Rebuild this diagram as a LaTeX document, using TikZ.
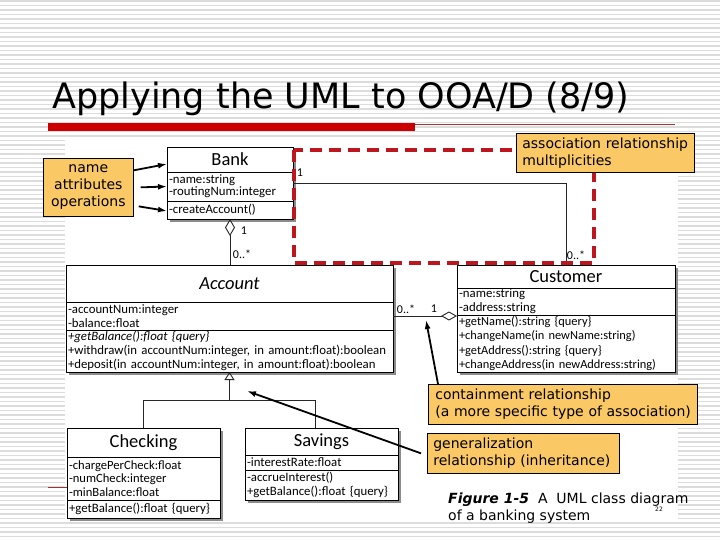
\documentclass[tikz,border=0pt]{standalone}
\usepackage{fontspec}
\setmainfont{DejaVu Sans}
\newfontfamily\umlfont{Carlito}
\usetikzlibrary{arrows.meta}
\definecolor{callfill}{RGB}{251,200,102}
\definecolor{dashred}{RGB}{190,22,30}
\definecolor{titlered}{RGB}{204,0,0}
\definecolor{thinred}{RGB}{160,50,50}
\definecolor{stripe}{RGB}{220,220,220}
\definecolor{shade}{RGB}{140,140,140}
\begin{document}
\begin{tikzpicture}[x=1pt,y=-1pt,
  sect/.style={draw=black, line width=0.8pt, fill=white, anchor=north west,
    inner ysep=0pt, inner xsep=2pt, outer sep=0pt, align=left,
    font=\umlfont\fontsize{12.8}{14}\selectfont},
  namesect/.style={sect, align=center, font=\umlfont\fontsize{18.5}{19}\selectfont},
  assoc/.style={draw=black!85, line width=0.9pt},
  mult/.style={font=\umlfont\fontsize{12}{12}\selectfont, inner sep=0pt},
  callout/.style={draw=black, line width=0.7pt, fill=callfill, anchor=north west,
    inner ysep=0pt, align=left, font=\fontsize{14}{17}\selectfont},
  callarrow/.style={draw=black, line width=1.8pt, -{Latex[length=9pt,width=6pt]}},
  shadowbox/.style={fill=shade},
]
\useasboundingbox (0,0) rectangle (720,540);
% background
\fill[white] (0,0) rectangle (720,540);
\foreach \k in {0,...,120} \draw[stripe, line width=1.2pt] (0,\k*4.5+1) -- (720,\k*4.5+1);
\fill[white] (65,139) rectangle (678,522);

% title
\node[anchor=base west, inner sep=0pt, font=\fontsize{35}{40}\selectfont] (title) at (52,109) {Applying the UML to OOA/D (8/9)};
\fill[titlered] (48,123) rectangle (415,131);
\draw[thinred, line width=0.8pt] (415,124) -- (675,124);
\draw[thinred, line width=0.8pt] (48,487) -- (67,487);

% shadows
\fill[shadowbox] (170,150) rectangle (296,222);
\fill[shadowbox] (69,268) rectangle (396,375);
\fill[shadowbox] (460,268) rectangle (678,375);
\fill[shadowbox] (70,431) rectangle (223,521);
\fill[shadowbox] (248,431) rectangle (401,503);

% Bank
\node[namesect, text width=122pt, minimum height=25pt] (bankN) at (167,147) {Bank};
\node[sect, text width=122pt, minimum height=29pt, font=\umlfont\fontsize{12.8}{12}\selectfont] (bankA) at (bankN.south west) {\mbox{-name:string}\\\mbox{-routingNum:integer}};
\node[sect, text width=122pt, minimum height=18pt] (bankO) at (bankA.south west) {\mbox{-createAccount()}};

% Account
\node[namesect, text width=323pt, minimum height=37pt] (acctN) at (66,265) {\textit{Account}};
\node[sect, text width=323pt, minimum height=28pt, font=\umlfont\fontsize{12.8}{14}\selectfont] (acctA) at (acctN.south west) {\mbox{-accountNum:integer}\\\mbox{-balance:float}};
\node[sect, text width=323pt, minimum height=42pt, font=\umlfont\fontsize{12.8}{14}\selectfont] (acctO) at (acctA.south west) {\mbox{\textit{+getBalance():float \{query\}}}\\\mbox{+withdraw(in accountNum:integer, in amount:float):boolean}\\\mbox{+deposit(in accountNum:integer, in amount:float):boolean}};

% Customer
\node[namesect, text width=214pt, minimum height=23pt] (custN) at (457,265) {Customer};
\node[sect, text width=214pt, minimum height=27pt] (custA) at (custN.south west) {\mbox{-name:string}\\\mbox{-address:string}};
\node[sect, text width=214pt, minimum height=57pt, font=\umlfont\fontsize{12.4}{14.3}\selectfont] (custO) at (custA.south west) {\mbox{+getName():string \{query\}}\\\mbox{+changeName(in newName:string)}\\\mbox{+getAddress():string \{query\}}\\\mbox{+changeAddress(in newAddress:string)}};

% Checking
\node[namesect, text width=149pt, minimum height=29pt] (chkN) at (67,428) {Checking};
\node[sect, text width=149pt, minimum height=43pt, font=\umlfont\fontsize{12.6}{13.5}\selectfont] (chkA) at (chkN.south west) {\mbox{-chargePerCheck:float}\\\mbox{-numCheck:integer}\\\mbox{-minBalance:float}};
\node[sect, text width=149pt, minimum height=18pt] (chkO) at (chkA.south west) {\mbox{+getBalance():float \{query\}}};

% Savings
\node[namesect, text width=149pt, minimum height=27pt] (savN) at (245,428) {Savings};
\node[sect, text width=149pt, minimum height=15pt] (savA) at (savN.south west) {\mbox{-interestRate:float}};
\node[sect, text width=149pt, minimum height=30pt] (savO) at (savA.south west) {\mbox{-accrueInterest()}\\\mbox{+getBalance():float \{query\}}};

% relationships
\draw[assoc, {Diamond[open,length=17pt,width=10pt]}-] (bankO.south) -- (bankO.south |- acctN.north);
\draw[assoc] ([yshift=3.5pt]bankA.east) -| (custN.north);
\draw[assoc, {Diamond[open,length=16pt,width=9pt]}-] (acctA.east -| custO.west) -- (acctA.east);
\coordinate (gj) at (229.5,400);
\draw[assoc, -{Triangle[open,length=8pt,width=10pt]}] (gj) -- (acctO.south);
\draw[assoc] (chkN.north) |- (gj);
\draw[assoc] ([xshift=-6.5pt]savN.north) |- (gj);

% multiplicities
\node[mult] (m1) at (300,173) {1};
\node[mult] (m2) at (576,255) {0..*};
\node[mult] (m3) at (244,231) {1};
\node[mult] (m4) at (242,254) {0..*};
\node[mult] (m5) at (406,309) {0..*};
\node[mult] (m6) at (434,309) {1};

% red dashed frame
\draw[dashred, line width=4pt, dash pattern=on 12pt off 7pt] (294,150) rectangle (594,263);

% callouts
\node[callout, align=center, text width=84pt, inner xsep=3pt, minimum height=58pt] (cName) at (43,158) {\rule{0pt}{6pt}name\\attributes\\operations};
\node[callout, text width=166pt, inner xsep=6pt, minimum height=39pt] (cAssoc) at (516,133) {\mbox{association relationship}\\\mbox{multiplicities}};
\node[callout, text width=255pt, inner xsep=7pt, minimum height=40pt] (cCont) at (428,384) {\mbox{containment relationship}\\\mbox{(a more specific type of association)}};
\node[callout, text width=180pt, inner xsep=6pt, minimum height=40pt] (cGen) at (427,433) {\mbox{generalization}\\\mbox{relationship (inheritance)}};

\coordinate (contTip) at (426,320);
\coordinate (genTip) at (247,391);
\draw[callarrow] ([yshift=17pt]cName.east) -- ([yshift=-4.5pt]bankN.west);
\draw[callarrow] ([xshift=7pt]cName.east) -- (bankA.west);
\draw[callarrow] ([xshift=5pt,yshift=-19pt]cName.east) -- ([yshift=-1pt]bankO.west);
\draw[callarrow] ([xshift=10pt]cCont.north west) -- (contTip);
\draw[callarrow] ([xshift=-6pt]cGen.west) -- (genTip);

% caption
\node[anchor=base west, inner sep=0pt, font=\fontsize{14}{17}\selectfont] (cap1) at (448,503) {\textbf{\textit{Figure 1-5}}\ \ A\ \ UML class diagram};
\node[anchor=base west, inner sep=0pt, font=\fontsize{14}{17}\selectfont] (cap2) at (448,520) {of a banking system};
\node[inner sep=0pt, font=\fontsize{6}{6}\selectfont] (slno) at (659,509) {22};
\end{tikzpicture}
\end{document}
